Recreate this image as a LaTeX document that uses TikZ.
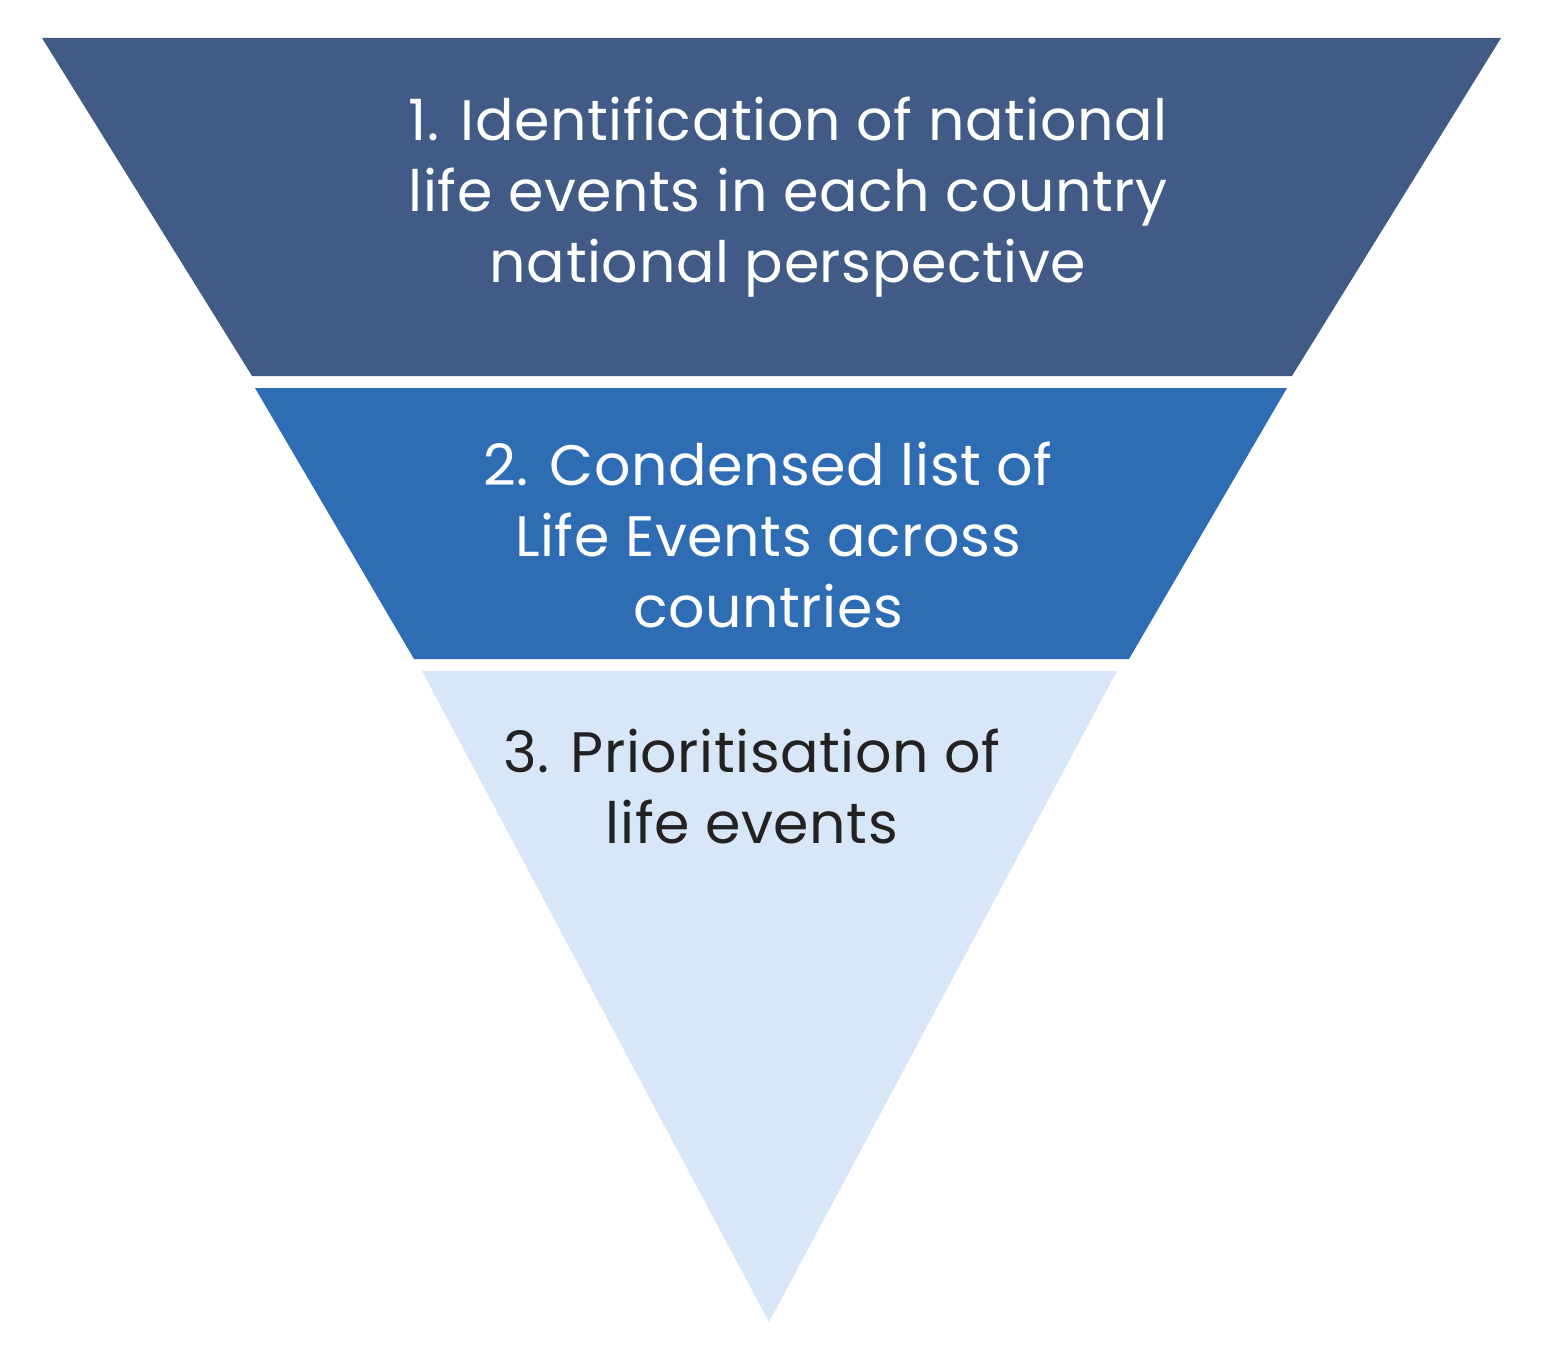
\documentclass[tikz,border=0pt]{standalone}
\usepackage{fontspec}
\setmainfont[LetterSpace=1]{Poppins}
\definecolor{darkblue}{HTML}{415A86}
\definecolor{midblue}{HTML}{2E6CB3}
\definecolor{lightblue}{HTML}{D8E7F7}
\definecolor{textdark}{HTML}{222222}
\tikzset{
  band/.style={draw=none},
  label/.style={align=center, anchor=base, font=\fontsize{57}{71}\selectfont, inner sep=0pt}
}
\begin{document}
\begin{tikzpicture}[x=1pt,y=-1pt]
\useasboundingbox (0,0) rectangle (1558,1348);
\fill[white] (0,0) rectangle (1558,1348);
\fill[band, darkblue] (42,38) -- (1501,38) -- (1292,376) -- (252,376) -- cycle;
\fill[band, midblue] (255,388) -- (1287,388) -- (1129,659) -- (414,659) -- cycle;
\fill[band, lightblue] (422,671) -- (1117,671) -- (769,1322) -- cycle;
\node[label, text=white] (t1) at (788,283) {1. Identification of national\\life events in each country\\national perspective};
\node[label, text=white] (t2) at (768,627) {2. Condensed list of\\Life Events across\\countries};
\node[label, text=textdark] (t3) at (752,843) {3. Prioritisation of\\life events};
\end{tikzpicture}
\end{document}
